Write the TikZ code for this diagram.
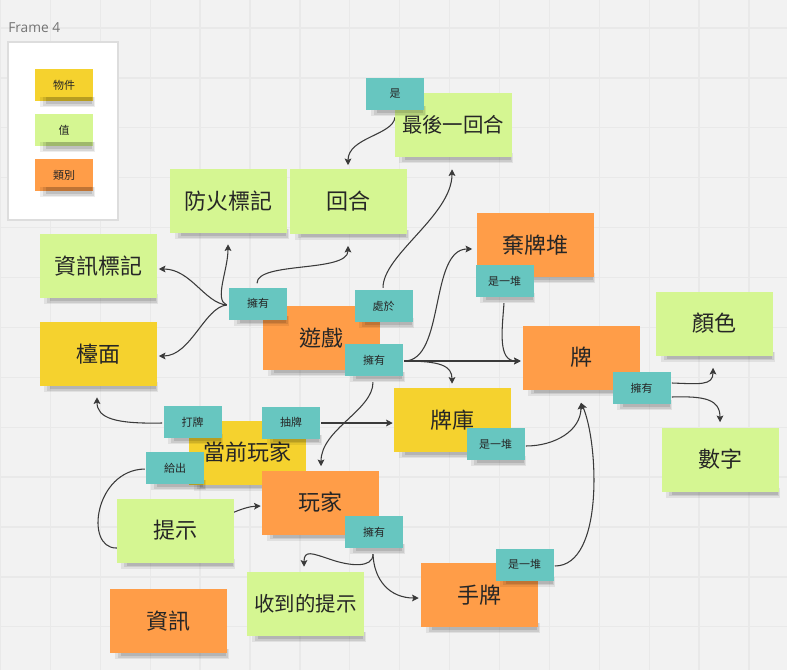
\documentclass[tikz,border=0pt]{standalone}
\usepackage{fontspec}
\setmainfont{Noto Sans CJK TC}
\newfontfamily\latinf{Open Sans}
\usetikzlibrary{arrows.meta,calc}
\definecolor{paper}{HTML}{F2F2F2}
\definecolor{gridc}{HTML}{E9E9E9}
\definecolor{cy}{HTML}{F5D22E}
\definecolor{cg}{HTML}{D5F692}
\definecolor{co}{HTML}{FF9D48}
\definecolor{ct}{HTML}{67C6C0}
\definecolor{ink}{HTML}{262626}
\definecolor{lk}{HTML}{3A3A3A}
\definecolor{framec}{HTML}{DDDDDD}
\pgfdeclarelayer{bg}
\pgfdeclarelayer{shad}
\pgfdeclarelayer{edges}
\pgfdeclarelayer{lshad}
\pgfdeclarelayer{top}
\pgfsetlayers{bg,shad,edges,main,lshad,top}
\newcommand\mkshadow[1]{%
  \fill[black, opacity=0.07] ($(#1.south west)+(5,-4)$) rectangle ($(#1.south east)+(1.5,6)$);
  \fill[black, opacity=0.09] ($(#1.south west)+(8,-4)$) rectangle ($(#1.south east)+(0.5,4.5)$);
  \fill[black, opacity=0.11] ($(#1.south west)+(11,-4)$) rectangle ($(#1.south east)+(-1,3)$);
}
\tikzset{
  note/.style={minimum width=87.75pt, minimum height=48pt, inner sep=0pt,
    font=\fontsize{16.5pt}{18pt}\selectfont, text=ink},
  small/.style={font=\fontsize{15.3pt}{17pt}\selectfont},
  thing/.style={note, fill=cy},
  val/.style={note, fill=cg},
  cls/.style={note, fill=co},
  chip/.style={minimum width=43.5pt, minimum height=24pt, inner sep=0pt,
    font=\fontsize{8.25pt}{10pt}\selectfont, text=ink},
  tag/.style={chip, fill=ct},
  link/.style={draw=lk, line width=0.8pt, -{Stealth[length=5pt,width=5pt,inset=1pt]}},
}
\begin{document}
\begin{tikzpicture}[x=0.75pt, y=-0.75pt]
\useasboundingbox (0,0) rectangle (787,670);
\begin{pgfonlayer}{bg}
  \fill[paper] (0,0) rectangle (787,670);
  \foreach \k in {0,...,15} \draw[gridc, line width=1pt] ({0.5+49.9*\k},0) -- ({0.5+49.9*\k},670);
  \foreach \k in {0,...,13} \draw[gridc, line width=1pt] (0,{28+49.9*\k}) -- (787,{28+49.9*\k});
\end{pgfonlayer}

% frame and legend
\node[anchor=south west, inner sep=0pt, text=black!55, font=\latinf\fontsize{10.3pt}{12pt}\selectfont] (ftitle) at (8,33) {Frame 4};
\node[draw=framec, fill=white, line width=0.8pt, minimum width=82.5pt, minimum height=133.5pt, inner sep=0pt] (frame) at (63,131) {};
\node[chip, fill=cy] (lgobj) at (64,85) {物件};
\node[chip, fill=cg] (lgval) at (64,130) {值};
\node[chip, fill=co] (lgcls) at (64,175) {類別};

% notes
\node[val] (fire) at (228.5,201) {防火標記};
\node[val] (round) at (348.5,201.5) {回合};
\node[val, small] (last) at (453,125) {最後一回合};
\node[val] (infomark) at (98,266) {資訊標記};
\node[thing] (table) at (98,354) {檯面};
\node[cls] (game) at (321.5,338) {遊戲};
\node[cls] (discard) at (535,245) {棄牌堆};
\node[cls] (card) at (581.5,357.5) {牌};
\node[val] (color) at (714.5,323.5) {顏色};
\node[val] (number) at (720,459.5) {數字};
\node[thing] (deck) at (452.5,420) {牌庫};
\node[thing] (cur) at (247.5,452.5) {當前玩家};
\node[cls] (player) at (320.5,502.5) {玩家};
\node[val] (hint) at (175,530.5) {提示};
\node[val, small] (got) at (305.5,604) {收到的提示};
\node[cls] (info) at (168.5,621) {資訊};
\node[cls] (hand) at (479.5,595) {手牌};

% connector labels
\begin{pgfonlayer}{top}
\node[tag] (isa) at (395,94) {是};
\node[tag] (hasL) at (258,303.5) {擁有};
\node[tag] (locin) at (383.5,306) {處於};
\node[tag] (hasM) at (374,360) {擁有};
\node[tag] (pileD) at (504.5,281) {是一堆};
\node[tag] (hasC) at (641.5,388) {擁有};
\node[tag] (pileK) at (495.5,444) {是一堆};
\node[tag] (pileH) at (524.5,564.5) {是一堆};
\node[tag] (hasP) at (374,532) {擁有};
\node[tag] (play) at (192.5,422) {打牌};
\node[tag] (drawc) at (291,422.5) {抽牌};
\node[tag] (give) at (175,468) {給出};
\end{pgfonlayer}

\begin{pgfonlayer}{shad}
  \foreach \n in {fire,round,last,infomark,table,game,discard,card,color,number,deck,cur,player,hint,got,info,hand} {\mkshadow{\n}}
\end{pgfonlayer}
\begin{pgfonlayer}{lshad}
  \foreach \n in {isa,hasL,locin,hasM,pileD,hasC,pileK,pileH,hasP,play,drawc,give,lgobj,lgval,lgcls} {\mkshadow{\n}}
\end{pgfonlayer}

\coordinate (fanL) at ($(hasL.west)+(-2,1.5)$);
\coordinate (fanM) at ($(hasM.east)+(1,1)$);
\coordinate (cardIn) at ($(card.west)+(-2,3.5)$);
\coordinate (cardUp) at ($(card.south)+(-0.5,13)$);
\coordinate (hp) at ($(hasP.south)+(-1,6)$);

\begin{pgfonlayer}{edges}
  \draw[link] ($(isa.south)+(0,7)$) .. controls +(-2,18) and +(0,-28) .. ($(round.north)+(-0.5,-4)$);
  \draw[link] (fanL) .. controls +(-22,-2) and +(32,0) .. ($(infomark.east)+(2,3)$);
  \draw[link] (fanL) .. controls +(-22,2) and +(32,0) .. ($(table.east)+(2,2)$);
  \draw[link] (fanL) .. controls +(-13,-5) and +(0,26) .. ($(fire.south)+(-0.5,11)$);
  \draw[link] ($(hasL.north)+(-1,-4)$) .. controls +(0,-22) and +(0,27) .. ($(round.south)+(-0.5,12)$);
  \draw[link] ($(locin.north)+(-0.5,-2)$) .. controls +(0,-33) and +(0,46) .. ($(last.south)+(-1,12)$);
  \draw[link] (fanM) .. controls +(41,0) and +(-43,0) .. ($(discard.west)+(-4,4)$);
  \draw[link] (fanM) -- (cardIn);
  \draw[link] (fanM) .. controls +(36,0) and +(0,-18) .. ($(deck.north)+(-0.5,-4)$);
  \draw[link] ($(pileD.south)+(-0.5,6)$) .. controls +(-2,27) and +(-23,0) .. (cardIn);
  \draw[link] ($(hasM.south)+(-1,6)$) .. controls +(0,28) and +(0,-37) .. ($(player.north)+(0.5,-4)$);
  \draw[link] ($(play.west)+(-1,1)$) .. controls +(-47,1) and +(0,21) .. ($(table.south)+(-1,11)$);
  \draw[link] ($(drawc.east)+(1,0.5)$) -- ($(deck.west)+(-1,3)$);
  \draw[link] ($(give.west)+(-1,1)$) .. controls +(-50,1) and +(-32,0) .. ($(hint.west)+(0,17.5)$)
     .. controls +(60,0) and +(-30,1) .. ($(player.west)+(-1,3.5)$);
  \draw[link] (hp) .. controls +(0,14) and +(20,7) .. ($(hp)+(-43,5)$)
     .. controls +(-18,-6) and +(0,-17) .. ($(got.north)+(-1.5,-5)$);
  \draw[link] (hp) .. controls +(1,26) and +(-29,0) .. ($(hand.west)+(-2,3)$);
  \draw[link] ($(pileK.east)+(1,2)$) .. controls +(29,0) and +(0,28) .. (cardUp);
  \draw[link] ($(pileH.east)+(1,1.5)$) .. controls +(50,0) and +(17,38) .. (cardUp);
  \draw[link] ($(hasC.east)+(1,-5)$) .. controls +(28,1) and +(0,18) .. ($(color.south)+(-1.5,12)$);
  \draw[link] ($(hasC.east)+(1,9)$) .. controls +(33,-1) and +(0,-23) .. ($(number.north)+(0,-5)$);
\end{pgfonlayer}
\end{tikzpicture}
\end{document}
